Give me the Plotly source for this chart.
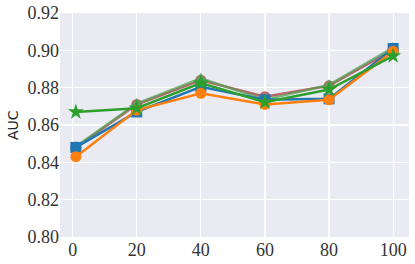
import plotly.graph_objects as go

x_vals = [1, 20, 40, 60, 80, 100]
blue_sq = [0.848, 0.867, 0.8805, 0.8735, 0.874, 0.901]
orange_ci = [0.843, 0.868, 0.877, 0.871, 0.8735, 0.8995]
red_ci = [0.848, 0.871, 0.884, 0.8752, 0.881, 0.9003]
lgreen_tri = [0.8485, 0.8715, 0.885, 0.8735, 0.8815, 0.9015]
green_star = [0.867, 0.869, 0.8825, 0.8722, 0.879, 0.897]
x_ticks = [0, 20, 40, 60, 80, 100]
y_ticks = [0.80, 0.82, 0.84, 0.86, 0.88, 0.90, 0.92]

series = [
    (red_ci, "rgba(176,80,80,0.85)", "circle", 11),
    (lgreen_tri, "rgba(85,160,85,0.75)", "triangle-up", 11),
    (blue_sq, "#1f77b4", "square", 11),
    (orange_ci, "#ff7f0e", "circle", 11),
    (green_star, "#2ca02c", "star", 12),
]

SERIF = "Liberation Serif"
fig = go.Figure()
for ys, col, sym, sz in series:
    fig.add_trace(go.Scatter(
        x=x_vals, y=ys, mode="lines+markers",
        line=dict(color=col, width=2.5),
        marker=dict(symbol=sym, size=sz, color=col, line=dict(width=0)),
        showlegend=False, hoverinfo="skip",
    ))

fig.update_layout(
    width=415, height=264,
    margin=dict(l=60, r=6, t=13, b=27, autoexpand=False),
    paper_bgcolor="white", plot_bgcolor="#EAEAF2",
    font=dict(family=SERIF, size=18, color="#333333"),
    annotations=[dict(
        text="AUC", x=-(60 - 13) / 349, y=0.5, xref="paper", yref="paper", showarrow=False,
        textangle=-90, xanchor="center", yanchor="middle",
        font=dict(family="DejaVu Sans", size=14, color="#222222"),
    )],
)
fig.update_xaxes(
    range=[-3.95, 104.95], tickvals=x_ticks, automargin=False,
    showgrid=True, gridcolor="white", gridwidth=1.2, zeroline=False,
    showline=False, ticks="", tickfont=dict(family=SERIF, size=18, color="#333333"),
)
fig.update_yaxes(
    range=[0.80, 0.92], tickvals=y_ticks, tickformat=".2f", automargin=False,
    showgrid=True, gridcolor="white", gridwidth=1.2, zeroline=False,
    showline=False, ticks="", tickfont=dict(family=SERIF, size=18, color="#333333"),
)

post = """
document.body.style.margin='0';
function applySerif(){
  document.querySelectorAll('g.xtick text, g.ytick text, text.xtick, text.ytick').forEach(function(t){
    t.style.setProperty('font-family', "'Liberation Serif', 'DejaVu Serif', serif", 'important');
    t.setAttribute('font-family', 'Liberation Serif');
  });
}
applySerif();
setTimeout(applySerif, 30);
setTimeout(applySerif, 200);
setTimeout(applySerif, 800);
"""
fig.write_html("out.html", post_script=post, config={"displayModeBar": False, "staticPlot": True})
